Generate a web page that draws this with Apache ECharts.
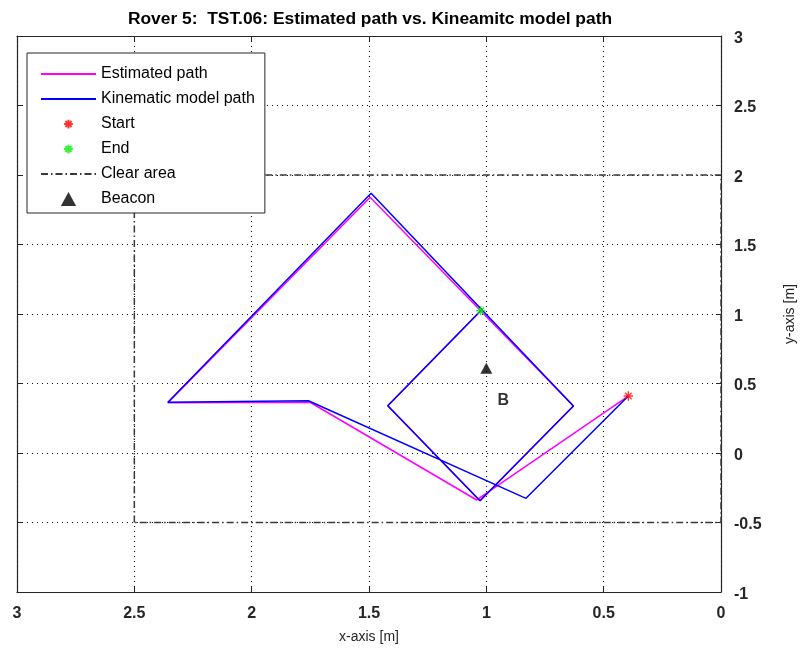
<!DOCTYPE html>
<html>
<head>
<meta charset="utf-8">
<script src="https://cdn.jsdelivr.net/npm/echarts@6/dist/echarts.min.js"></script>
<style>
  html, body { margin: 0; padding: 0; background: #fff; }
  #chart { width: 801px; height: 654px; }
</style>
</head>
<body>
<div id="chart"></div>
<script>
// Estimated path (x, y in metres)
const estX = [0.395, 1.041, 1.751, 2.357, 1.495, 0.629, 1.027, 1.420, 1.024];
const estY = [0.410, -0.338, 0.365, 0.362, 1.840, 0.338, -0.343, 0.340, 1.024];

// Kinematic model path
const kinX = [0.395, 0.831, 1.758, 2.357, 1.491, 0.629, 1.027, 1.420, 1.024];
const kinY = [0.410, -0.326, 0.376, 0.365, 1.868, 0.338, -0.343, 0.340, 1.024];

// Start / end of the run
const startPt = [0.395, 0.410];
const endPt = [1.024, 1.024];

// Clear area rectangle corners
const clearX = [2.5, 2.5, 0, 0, 2.5];
const clearY = [-0.5, 2, 2, -0.5, -0.5];

// Beacon position and its tag
const beaconPt = [1.0, 0.61];
const beaconTag = [0.955, 0.38];

// Axis ranges and tick step
const xRange = [0, 3];
const yRange = [-1, 3];
const tickStep = 0.5;

const zip = (xs, ys) => xs.map((x, i) => [x, ys[i]]);

// Asterisk marker; the two tiny corner strokes pad the bounding box
const asterisk = 'path://M-3,-3L-2.99,-3M13,13L13.01,13M5,0L5,10M0,5L10,5M1.5,1.5L8.5,8.5M1.5,8.5L8.5,1.5';
// Filled triangle as a path so the legend keeps its proportions
const triangle = 'path://M6,0L12,11L0,11Z';

const font = 'Liberation Sans, Arial, Helvetica, sans-serif';
const axisColor = '#262626';

const tickLabel = { fontSize: 16, fontWeight: 'bold', color: axisColor, fontFamily: font };
const gridDots = { show: true, lineStyle: { color: '#111', width: 1.1, type: [1, 4] } };
const frameLine = { show: true, onZero: false, lineStyle: { color: axisColor, width: 1.2 } };
const inTick = { show: true, inside: true, length: 5, lineStyle: { color: axisColor, width: 1 } };
// line-only legend entries: hide the marker that line series add to their icon
const noMarker = { opacity: 0 };

const chart = echarts.init(document.getElementById('chart'), null, { renderer: 'canvas' });

chart.setOption({
  animation: false,
  backgroundColor: '#fff',
  title: {
    text: 'Rover 5:  TST.06: Estimated path vs. Kineamitc model path',
    left: 365, top: 6, textAlign: 'center',
    textStyle: { fontSize: 17.4, fontWeight: 'bold', color: '#000', fontFamily: font }
  },
  grid: { left: 17, right: 80, top: 36, bottom: 62, containLabel: false, outerBoundsMode: 'none' },
  legend: {
    orient: 'vertical',
    left: 27, top: 53,
    padding: [13, 10, 6, 13],
    backgroundColor: '#fff',
    borderColor: axisColor, borderWidth: 1,
    itemWidth: 55, itemHeight: 14, itemGap: 9,
    textStyle: { fontSize: 16, color: '#000', fontFamily: font, lineHeight: 16 },
    data: [
      { name: 'Estimated path', itemStyle: noMarker },
      { name: 'Kinematic model path', itemStyle: noMarker },
      { name: 'Start', icon: asterisk, symbolKeepAspect: true },
      { name: 'End', icon: asterisk, symbolKeepAspect: true },
      { name: 'Clear area', itemStyle: noMarker },
      { name: 'Beacon', icon: triangle, symbolKeepAspect: true }
    ]
  },
  xAxis: [
    {
      type: 'value', position: 'bottom', inverse: true,
      min: xRange[0], max: xRange[1], interval: tickStep,
      name: 'x-axis [m]', nameLocation: 'middle', nameGap: 38,
      nameTextStyle: { fontSize: 14, color: axisColor, fontFamily: font },
      axisLine: frameLine, axisTick: inTick,
      axisLabel: Object.assign({ margin: 14 }, tickLabel),
      splitLine: gridDots
    },
    {
      type: 'value', position: 'top', inverse: true,
      min: xRange[0], max: xRange[1], interval: tickStep,
      axisLine: frameLine, axisTick: inTick,
      axisLabel: { show: false }, splitLine: { show: false }
    }
  ],
  yAxis: [
    {
      type: 'value', position: 'right',
      min: yRange[0], max: yRange[1], interval: tickStep,
      name: 'y-axis [m]', nameLocation: 'middle', nameGap: 62, nameRotate: 90,
      nameTextStyle: { fontSize: 14, color: axisColor, fontFamily: font },
      axisLine: frameLine, axisTick: inTick,
      axisLabel: Object.assign({
        margin: 13,
        formatter: '{v|{value}}',
        rich: { v: Object.assign({ padding: [5, 0, 0, 0] }, tickLabel) }
      }, tickLabel),
      splitLine: gridDots
    },
    {
      type: 'value', position: 'left',
      min: yRange[0], max: yRange[1], interval: tickStep,
      axisLine: frameLine, axisTick: inTick,
      axisLabel: { show: false }, splitLine: { show: false }
    }
  ],
  series: [
    {
      name: 'Clear area', type: 'line', data: zip(clearX, clearY),
      symbol: 'none', silent: true,
      lineStyle: { color: '#3a3a3a', width: 1.5, type: [7, 3, 1.5, 3] },
      itemStyle: { color: '#3a3a3a' }, z: 1
    },
    {
      name: 'Estimated path', type: 'line', data: zip(estX, estY),
      symbol: 'none',
      lineStyle: { color: '#ff00ff', width: 1.5 },
      itemStyle: { color: '#ff00ff' }, z: 3
    },
    {
      name: 'Kinematic model path', type: 'line', data: zip(kinX, kinY),
      symbol: 'none',
      lineStyle: { color: '#0000ff', width: 1.5 },
      itemStyle: { color: '#0000ff' }, z: 4
    },
    {
      name: 'Start', type: 'scatter', data: [startPt],
      symbol: asterisk, symbolSize: 15,
      itemStyle: { color: 'rgba(0,0,0,0)', borderColor: '#ff0000', borderWidth: 1.4 }, z: 5
    },
    {
      name: 'End', type: 'scatter', data: [endPt],
      symbol: asterisk, symbolSize: 15,
      itemStyle: { color: 'rgba(0,0,0,0)', borderColor: '#00ee00', borderWidth: 1.4 }, z: 5
    },
    {
      name: 'Beacon', type: 'scatter', data: [beaconPt],
      symbol: triangle, symbolSize: [12, 11],
      itemStyle: { color: '#000' }, z: 5
    },
    {
      name: 'tag', type: 'scatter', data: [beaconTag],
      symbol: 'circle', symbolSize: 1, itemStyle: { color: 'rgba(0,0,0,0)' },
      label: {
        show: true, position: 'right', distance: 0, formatter: 'B',
        fontSize: 16, fontWeight: 'bold', color: '#000', fontFamily: font
      },
      silent: true, z: 5
    }
  ]
});
</script>
</body>
</html>
